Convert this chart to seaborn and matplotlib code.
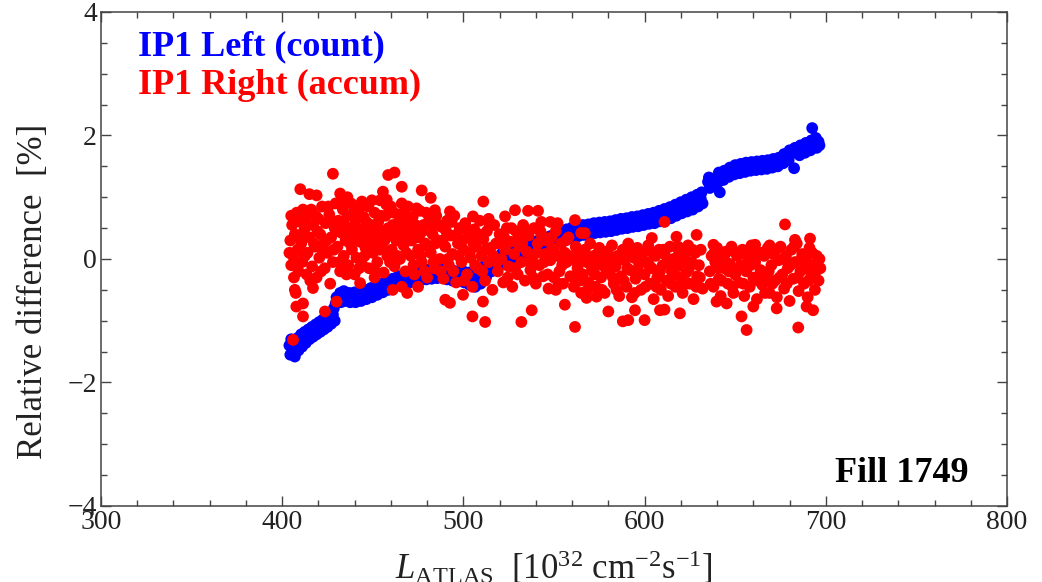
import matplotlib
matplotlib.use('Agg')
import matplotlib.pyplot as plt
from matplotlib.ticker import MultipleLocator
import pandas as pd
import seaborn as sns

# IP1 Left (count): relative difference [%] vs ATLAS luminosity
blue_points = [
    (404, -1.40), (404.5, -1.55), (405, -1.30), (406, -1.45), (406.5, -1.35), (407, -1.58),
    (408, -1.38), (408.5, -1.28), (409, -1.48), (410, -1.32), (410.5, -1.22), (411, -1.42),
    (412, -1.28), (412.5, -1.18), (413, -1.36), (414, -1.22), (414.5, -1.14), (415, -1.30),
    (416, -1.18), (416.5, -1.10), (417, -1.26), (418, -1.14), (418.5, -1.06), (419, -1.22),
    (420, -1.10), (420.5, -1.02), (421, -1.18), (422, -1.06), (422.5, -0.98), (423, -1.14),
    (424, -1.02), (424.5, -0.94), (425, -1.10), (426, -0.98), (426.5, -0.90), (427, -1.05),
    (428, -0.90), (428.5, -0.80), (429, -1.00), (429.5, -0.72), (430, -0.62),
    (431, -0.62), (432, -0.55), (432.5, -0.70), (433, -0.60), (434, -0.52), (434.5, -0.68),
    (436, -0.62), (437, -0.55), (437.5, -0.70), (439, -0.62), (440, -0.54), (440.5, -0.70),
    (442, -0.60), (443, -0.52), (443.5, -0.68), (445, -0.57), (446, -0.50), (446.5, -0.65),
    (448, -0.54), (449, -0.47), (449.5, -0.62), (451, -0.50), (452, -0.43), (452.5, -0.58),
    (454, -0.46), (455, -0.40), (455.5, -0.54), (457, -0.42), (458, -0.36), (458.5, -0.50),
    (460, -0.38), (461, -0.32), (461.5, -0.46), (463, -0.35), (464, -0.28), (464.5, -0.42),
    (466, -0.32), (467, -0.25), (467.5, -0.40), (469, -0.30), (470, -0.22), (470.5, -0.38),
    (472, -0.28), (473, -0.20), (473.5, -0.36), (475, -0.26), (476, -0.18), (476.5, -0.34),
    (478, -0.25), (479, -0.17), (479.5, -0.33), (481, -0.24), (482, -0.16), (482.5, -0.32),
    (484, -0.23), (485, -0.15), (485.5, -0.31), (487, -0.22), (488, -0.30), (488.5, -0.14),
    (490, -0.25), (491, -0.33), (491.5, -0.17), (493, -0.27), (494, -0.35), (494.5, -0.19),
    (496, -0.28), (497, -0.20), (497.5, -0.36), (499, -0.27), (500, -0.20), (500.5, -0.38),
    (502, -0.30), (503, -0.22), (503.5, -0.42), (505, -0.32), (506, -0.20), (506.5, -0.45),
    (508, -0.28), (509, -0.15), (509.5, -0.40), (511, -0.20), (512, -0.10), (512.5, -0.30),
    (514, -0.12), (515, -0.04), (515.5, -0.20), (517, -0.06), (518, 0.02), (518.5, -0.14),
    (520, 0.00), (521, 0.08), (521.5, -0.08), (523, 0.05), (524, 0.12), (524.5, -0.03),
    (526, 0.08), (527, 0.15), (527.5, 0.00), (529, 0.12), (530, 0.20), (530.5, 0.04),
    (532, 0.16), (533, 0.24), (533.5, 0.08), (535, 0.18), (536, 0.26), (536.5, 0.10),
    (538, 0.20), (539, 0.28), (539.5, 0.12), (541, 0.23), (542, 0.31), (542.5, 0.15),
    (544, 0.26), (545, 0.34), (545.5, 0.18), (547, 0.29), (548, 0.37), (548.5, 0.21),
    (550, 0.32), (551, 0.40), (551.5, 0.24), (553, 0.36), (554, 0.44), (554.5, 0.28),
    (556, 0.40), (557, 0.48), (557.5, 0.32), (559, 0.43), (560, 0.51), (560.5, 0.35),
    (562, 0.45), (563, 0.53), (563.5, 0.37), (565, 0.47), (566, 0.55), (566.5, 0.39),
    (568, 0.48), (569, 0.56), (569.5, 0.40), (571, 0.50), (572, 0.58), (572.5, 0.42),
    (574, 0.51), (575, 0.59), (575.5, 0.43), (577, 0.52), (578, 0.60), (578.5, 0.44),
    (580, 0.53), (581, 0.61), (581.5, 0.45), (583, 0.55), (584, 0.63), (584.5, 0.47),
    (586, 0.57), (587, 0.65), (587.5, 0.49), (589, 0.58), (590, 0.66), (590.5, 0.50),
    (592, 0.60), (593, 0.68), (593.5, 0.52), (595, 0.61), (596, 0.69), (596.5, 0.53),
    (598, 0.63), (599, 0.71), (599.5, 0.55), (601, 0.65), (602, 0.73), (602.5, 0.57),
    (604, 0.67), (605, 0.75), (605.5, 0.58), (607, 0.70), (608, 0.78), (608.5, 0.61),
    (610, 0.72), (611, 0.81), (611.5, 0.63), (613, 0.75), (614, 0.84), (614.5, 0.66),
    (616, 0.79), (617, 0.88), (617.5, 0.70), (619, 0.83), (620, 0.92), (620.5, 0.74),
    (622, 0.86), (623, 0.96), (623.5, 0.77), (625, 0.90), (626, 1.00), (626.5, 0.80),
    (628, 0.94), (629, 1.04), (629.5, 0.85), (631, 0.98), (631.5, 1.08), (632, 0.90),
    (635, 1.25), (635.5, 1.32), (636, 1.15), (637, 1.30), (637.5, 1.20), (641.5, 1.08),
    (640, 1.32), (641, 1.40), (640.5, 1.24), (643, 1.35), (644, 1.43), (643.5, 1.28),
    (646, 1.40), (647, 1.48), (646.5, 1.33), (649, 1.44), (650, 1.52), (649.5, 1.37),
    (652, 1.46), (653, 1.54), (652.5, 1.39), (655, 1.48), (656, 1.56), (655.5, 1.41),
    (658, 1.50), (659, 1.57), (658.5, 1.43), (661, 1.51), (662, 1.58), (661.5, 1.44),
    (664, 1.52), (665, 1.59), (664.5, 1.45), (667, 1.53), (668, 1.60), (667.5, 1.46),
    (670, 1.55), (671, 1.62), (670.5, 1.48), (673, 1.57), (674, 1.64), (673.5, 1.50),
    (676, 1.62), (677, 1.70), (676.5, 1.55), (679, 1.68), (680, 1.76), (679.5, 1.60),
    (682, 1.72), (683, 1.80), (682.5, 1.47), (685, 1.76), (686, 1.84), (685.5, 1.68),
    (688, 1.80), (689, 1.88), (688.5, 1.72), (691, 1.84), (692, 1.92), (691.5, 1.76),
    (692.5, 2.12), (694, 1.88), (694.5, 1.96), (695, 1.80), (696, 1.90), (696.5, 1.84),
]

# IP1 Right (accum)
red_points = [
    # isolated high points
    (428, 1.38), (458.5, 1.36), (462, 1.40), (410, 1.13), (415, 1.05), (419, 1.03),
    (466, 1.17), (477, 1.11), (432, 1.06), (436, 1.00), (455.6, 1.09), (457.7, 0.96),
    (482, 0.99), (444, 0.93), (446.6, 0.87), (469.4, 0.85), (474.2, 0.82), (484.3, 0.79),
    (511, 0.93), (492.6, 0.77), (505.3, 0.69), (528.5, 0.79), (535.7, 0.78), (541.2, 0.78),
    (523, 0.69), (514, 0.65), (543, 0.60), (548, 0.60), (552, 0.58), (565, 0.42),
    (561.6, 0.63), (567, 0.42), (604, 0.34), (617.6, 0.36), (628.7, 0.39), (611, 0.60),
    (677.5, 0.56), (683, 0.31), (691.3, 0.33), (661, 0.23), (669, 0.22), (638, 0.23),
    # isolated low points
    (406, -1.31), (407, -0.50), (407.5, -0.55), (407.8, -0.77), (411.5, -0.72), (411.5, -0.93),
    (423.6, -0.85), (417, -0.47), (430, -0.69), (443, -0.39), (451, -0.30), (461, -0.50),
    (469, -0.55), (466, -0.45), (475, -0.45), (490, -0.66), (492.6, -0.71), (499.8, -0.58),
    (505, -0.93), (512, -1.02), (510.8, -0.69), (532, -1.02), (537.7, -0.83), (556, -0.74),
    (561.6, -1.10), (580, -0.85), (568, -0.63), (573.5, -0.61), (551, -0.50), (588, -1.01),
    (591, -0.99), (600, -0.99), (594.7, -0.83), (611, -0.82), (608.5, -0.83), (619.5, -0.88),
    (639.7, -0.69), (645.3, -0.72), (653.5, -0.93), (656.3, -1.15), (660, -0.77), (672.9, -0.80),
    (684.8, -1.11), (689.4, -0.77), (693, -0.83),
    # dense cloud
    (404.5, 0.30), (405, -0.10), (405.5, 0.55), (406, 0.05), (406.5, -0.30), (407, 0.40),
    (408, 0.75), (408.5, 0.15), (409, -0.20), (410, 0.60), (410.5, 0.25), (411, -0.05),
    (412, 0.45), (413, 0.68), (413.5, -0.25), (414, 0.10), (415, 0.35), (416, 0.80),
    (416.5, -0.12), (417, 0.55), (418, 0.20), (419, -0.30), (420, 0.65), (420.5, 0.02),
    (421, 0.40), (422, 0.85), (423, 0.25), (423.5, -0.15), (424, 0.58), (425, 0.10),
    (426, 0.72), (426.5, -0.40), (427, 0.35), (428, -0.05), (429, 0.50), (429.5, 0.90),
    (430.5, 0.20), (431, 0.62), (432, -0.20), (433, 0.42), (433.5, 0.80), (434, 0.05),
    (435, 0.30), (436, 0.70), (436.5, -0.10), (437, 0.50), (438, 0.90), (438.5, 0.15),
    (439, 0.38), (440, -0.25), (440.5, 0.62), (441, 0.02), (442, 0.80), (443, 0.28),
    (443.5, 0.48), (444, -0.08), (445, 0.68), (446, 0.18), (447, 0.40), (447.5, 0.85),
    (448, -0.15), (449, 0.55), (450, 0.10), (451, 0.75), (452, 0.32), (452.5, -0.05),
    (453, 0.60), (454, 0.95), (455, 0.20), (455.5, 0.45), (456, -0.22), (457, 0.70),
    (458, 0.05), (459, 0.38), (460, 0.85), (460.5, 0.15), (461, 0.55), (462, -0.12),
    (463, 0.30), (464, 0.72), (465, 0.00), (465.5, 0.48), (466, 0.90), (467, 0.22),
    (468, -0.20), (469, 0.60), (470, 0.35), (471, 0.05), (472, 0.68), (473, -0.25),
    (474, 0.42), (475, 0.15), (476, 0.78), (477, -0.05), (478, 0.55), (479, 0.25),
    (480, -0.30), (481, 0.62), (482, 0.10), (483, 0.40), (484, -0.15), (485, 0.70),
    (486, 0.30), (487, 0.00), (488, 0.52), (489, -0.32), (490, 0.20), (491, 0.62),
    (492, -0.10), (493, 0.38), (494, 0.08), (495, 0.70), (496, -0.38), (497, 0.25),
    (498, 0.50), (499, -0.05), (500, 0.15), (501, 0.58), (502, -0.25), (503, 0.35),
    (504, 0.02), (505, -0.45), (506, 0.48), (507, 0.20), (508, -0.15), (509, 0.62),
    (510, 0.05), (511, 0.32), (512, -0.35), (513, 0.45), (514, -0.05), (515, 0.18),
    (516, -0.50), (517, 0.55), (518, 0.25), (519, -0.20), (520, 0.40), (521, 0.00),
    (522, -0.38), (523, 0.15), (524, 0.50), (525, -0.12), (526, 0.28), (527, -0.45),
    (528, 0.08), (529, 0.45), (530, -0.25), (531, 0.20), (532, -0.05), (533, 0.55),
    (534, -0.35), (535, 0.12), (536, 0.38), (537, -0.18), (538, 0.02), (539, 0.50),
    (540, -0.40), (541, 0.25), (542, -0.10), (543, 0.40), (544, -0.28), (545, 0.08),
    (546, 0.30), (547, -0.48), (548, -0.02), (549, 0.18), (550, -0.30), (551, 0.45),
    (552, 0.05), (553, -0.20), (554, 0.25), (555, -0.40), (556, 0.10), (557, -0.05),
    (558, 0.35), (559, -0.28), (560, 0.00), (561, -0.45), (562, 0.20), (563, -0.15),
    (564, 0.08), (565, -0.55), (566, -0.25), (567, 0.15), (568, -0.05), (569, -0.38),
    (570, 0.25), (571, -0.18), (572, 0.05), (573, -0.45), (574, -0.10), (575, 0.18),
    (576, -0.30), (577, 0.00), (578, -0.55), (579, 0.12), (580, -0.22), (581, -0.05),
    (582, 0.22), (583, -0.40), (584, -0.12), (585, 0.05), (586, -0.60), (587, -0.28),
    (588, 0.15), (589, -0.02), (590, -0.45), (591, 0.25), (592, -0.18), (593, -0.62),
    (594, 0.02), (595, -0.32), (596, 0.18), (597, -0.08), (598, -0.50), (599, 0.10),
    (600, -0.25), (601, -0.05), (602, 0.22), (603, -0.40), (604, -0.15), (605, -0.65),
    (606, 0.05), (607, -0.30), (608, 0.15), (609, -0.50), (610, -0.10), (611, 0.08),
    (612, -0.35), (613, -0.60), (614, 0.20), (615, -0.20), (616, 0.00), (617, -0.45),
    (618, -0.12), (619, 0.12), (620, -0.30), (621, -0.55), (622, 0.05), (623, -0.22),
    (624, 0.22), (625, -0.40), (626, -0.05), (627, -0.65), (628, 0.10), (629, -0.28),
    (630, -0.10), (631, 0.15), (632, -0.48), (636, -0.20), (637, 0.05), (638, -0.45),
    (639, -0.05), (640, 0.18), (641, -0.32), (642, -0.60), (643, 0.00), (644, -0.15),
    (645, 0.12), (646, -0.40), (647, -0.08), (648, 0.20), (649, -0.55), (650, -0.25),
    (651, 0.05), (652, -0.38), (653, -0.10), (654, 0.15), (655, -0.60), (656, -0.20),
    (657, 0.02), (658, -0.45), (659, 0.22), (660, -0.30), (661, -0.05), (662, -0.65),
    (663, 0.10), (664, -0.18), (665, -0.42), (666, 0.05), (667, -0.28), (668, 0.18),
    (669, -0.55), (670, -0.10), (671, 0.08), (672, -0.35), (673, -0.62), (674, -0.02),
    (675, 0.20), (676, -0.25), (677, -0.48), (678, 0.05), (679, -0.15), (680, -0.68),
    (681, 0.15), (682, -0.32), (683, -0.05), (684, 0.25), (685, -0.52), (686, -0.20),
    (687, 0.08), (688, -0.40), (689, 0.00), (690, -0.62), (691, 0.18), (692, -0.28),
    (693, -0.10), (694, -0.50), (695, 0.05), (696, -0.35), (697, -0.15),
    # more of the dense cloud
    (404, 0.10), (405, 0.70), (407.5, -0.05), (409.5, 0.35), (411.5, 0.80), (412.5, 0.05),
    (414.5, 0.55), (415.5, -0.35), (417.5, 0.25), (418.5, 0.70), (419.5, 0.45), (421.5, -0.20),
    (422.5, 0.10), (424.5, 0.30), (425.5, 0.85), (427.5, 0.60), (428.5, 0.15), (430, 0.45),
    (431.5, -0.05), (432.5, 0.90), (434.5, 0.55), (435.5, -0.25), (437.5, 0.25), (439.5, 0.75),
    (441.5, 0.45), (442.5, -0.15), (444.5, 0.35), (445.5, 0.05), (446.5, 0.60), (448.5, 0.25),
    (449.5, 0.95), (450.5, 0.45), (451.5, -0.20), (453.5, 0.15), (454.5, 0.70), (456.5, 0.30),
    (457.5, 0.88), (458.5, 0.50), (459.5, -0.05), (461.5, 0.75), (462.5, 0.40), (463.5, 0.05),
    (464.5, 0.60), (466.5, 0.35), (467.5, 0.75), (468.5, 0.10), (469.5, 0.45),
    (470.5, 0.65), (471.5, 0.30), (472.5, -0.10), (473.5, 0.55), (475.5, 0.35), (476.5, 0.05),
    (477.5, 0.45), (478.5, -0.20), (479.5, 0.75), (480.5, 0.20), (482.5, 0.55), (483.5, -0.05),
    (484.5, 0.25), (486.5, 0.55), (487.5, -0.20), (488.5, 0.30), (490.5, 0.45), (491.5, 0.00),
    (493.5, 0.60), (494.5, -0.20), (496.5, 0.40), (497.5, 0.05), (499.5, 0.30), (500.5, -0.35),
    (502.5, 0.45), (503.5, 0.10), (505.5, 0.25), (506.5, -0.10), (508.5, 0.40), (510.5, -0.20),
    (512.5, 0.15), (514.5, 0.55), (516.5, 0.05), (518.5, -0.05), (520.5, 0.25), (522.5, 0.35),
    (524.5, -0.30), (526.5, 0.50), (528.5, -0.15), (530.5, 0.35), (532.5, 0.25), (534.5, 0.45),
    (536.5, -0.05), (538.5, -0.30), (540.5, 0.10), (542.5, 0.45), (544.5, -0.05), (546.5, -0.25),
    (548.5, 0.35), (550.5, 0.10), (552.5, -0.40), (554.5, -0.10), (556.5, 0.30), (558.5, 0.05),
    (560.5, -0.30), (562.5, -0.05), (564.5, -0.35), (566.5, 0.05), (568.5, -0.50), (570.5, -0.10),
    (572.5, -0.25), (574.5, 0.10), (576.5, -0.50), (578.5, -0.15), (580.5, 0.05), (582.5, -0.30),
    (584.5, -0.50), (586.5, 0.00), (588.5, -0.35), (590.5, -0.15), (592.5, 0.10), (594.5, -0.55),
    (596.5, -0.20), (598.5, 0.00), (600.5, -0.45), (602.5, -0.10), (604.5, 0.10), (606.5, -0.45),
    (608.5, -0.20), (610.5, 0.15), (612.5, -0.05), (614.5, -0.40), (616.5, -0.25), (618.5, 0.20),
    (620.5, -0.05), (622.5, -0.40), (624.5, -0.15), (626.5, 0.15), (628.5, -0.45), (630.5, -0.30),
    (636.5, -0.40), (638.5, 0.10), (640.5, -0.15), (642.5, -0.35), (644.5, 0.08), (646.5, -0.20),
    (648.5, -0.45), (650.5, 0.10), (652.5, -0.15), (654.5, -0.40), (656.5, 0.10), (658.5, -0.10),
    (660.5, 0.05), (662.5, -0.35), (664.5, 0.10), (666.5, -0.55), (668.5, -0.20), (670.5, -0.40),
    (672.5, 0.15), (674.5, -0.30), (676.5, 0.00), (678.5, -0.40), (680.5, -0.10), (682.5, 0.20),
    (684.5, -0.30), (686.5, 0.00), (688.5, -0.15), (690.5, -0.35), (692.5, 0.10), (694.5, -0.20),
    (696.5, 0.00),
]

series_names = ['IP1 Left (count)', 'IP1 Right (accum)']
series_colors = ['#0000ff', '#ff0000']

blue = pd.DataFrame(blue_points, columns=['lumi', 'diff'])
blue['series'] = series_names[0]
red = pd.DataFrame(red_points, columns=['lumi', 'diff'])
red['series'] = series_names[1]
data = pd.concat([blue, red], ignore_index=True)

sns.set_style('ticks')
plt.rcParams['font.family'] = ['Liberation Serif', 'DejaVu Serif']
plt.rcParams['mathtext.fontset'] = 'custom'
plt.rcParams['mathtext.rm'] = 'Liberation Serif'
plt.rcParams['mathtext.it'] = 'Liberation Serif:italic'

fig = plt.figure(figsize=(10.42, 5.82), dpi=100)
ax = fig.add_axes([0.0969, 0.1306, 0.8695, 0.8488])

sns.scatterplot(data=data, x='lumi', y='diff', hue='series', hue_order=series_names,
                palette=series_colors, s=72, linewidth=0, alpha=1, legend=False, ax=ax)

ax.set_xlim(300, 800)
ax.set_ylim(-4, 4)
ax.xaxis.set_major_locator(MultipleLocator(100))
ax.xaxis.set_minor_locator(MultipleLocator(20))
ax.yaxis.set_major_locator(MultipleLocator(2))
ax.yaxis.set_minor_locator(MultipleLocator(0.5))
ax.tick_params(which='both', direction='in', top=True, right=True, color='#444444', width=1)
ax.tick_params(which='major', length=7, labelsize=20, pad=3, labelcolor='#222222')
ax.tick_params(which='minor', length=4)
for s in ax.spines.values():
    s.set_color('#444444')
    s.set_linewidth(1.1)

ax.set_xlabel(r'$L_{\mathrm{ATLAS}}$  [10$^{32}$ cm$^{-2}$s$^{-1}$]', fontsize=25, color='#222222')
ax.set_ylabel('Relative difference  [%]', fontsize=25, color='#222222')
ax.xaxis.set_label_coords(0.5, -0.088)
ax.yaxis.set_label_coords(-0.056, 0.435)

ax.text(0.041, 0.929, series_names[0], color=series_colors[0], fontsize=26,
        fontweight='bold', va='center', ha='left', transform=ax.transAxes)
ax.text(0.041, 0.852, series_names[1], color=series_colors[1], fontsize=26,
        fontweight='bold', va='center', ha='left', transform=ax.transAxes)
ax.text(0.957, 0.066, 'Fill 1749', color='black', fontsize=26, fontweight='bold',
        va='center', ha='right', transform=ax.transAxes)

fig.savefig('out.png', dpi=100)
